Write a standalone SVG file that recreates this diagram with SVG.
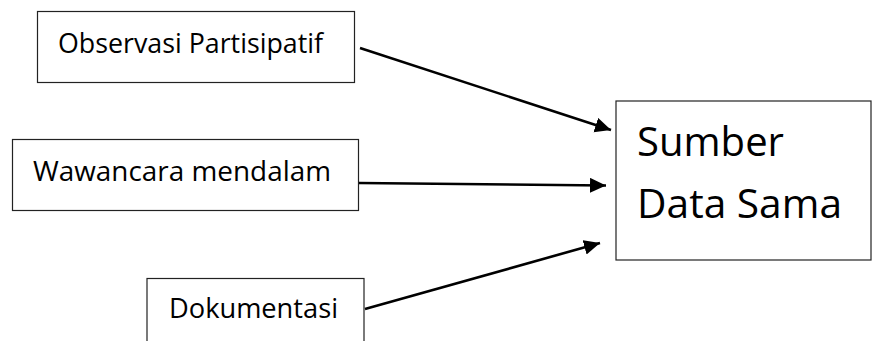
<svg xmlns="http://www.w3.org/2000/svg" width="872" height="341" viewBox="0 0 872 341">
<style>
.box{fill:#fff;stroke:#222;stroke-width:1.2}
.lbl{font-family:"Open Sans","Noto Sans",sans-serif;font-size:28px;fill:#000}
.big{font-family:"Open Sans","Noto Sans",sans-serif;font-size:41px;fill:#000}
.edge{stroke:#000;stroke-width:2.6;fill:none;marker-end:url(#ah)}
</style>
<defs>
<marker id="ah" markerUnits="userSpaceOnUse" markerWidth="18" markerHeight="16" refX="16" refY="7.5" orient="auto">
<path d="M0,0 L16,7.5 L0,15 z" fill="#000"/>
</marker>
</defs>
<rect width="872" height="341" fill="#fff"/>
<g id="n1">
<rect class="box" x="37.5" y="11.5" width="317" height="71"/>
<text class="lbl" x="58" y="53" textLength="265" lengthAdjust="spacingAndGlyphs">Observasi Partisipatif</text>
</g>
<g id="n2">
<rect class="box" x="12.5" y="139.5" width="346" height="71"/>
<text class="lbl" x="33" y="181" textLength="298" lengthAdjust="spacingAndGlyphs">Wawancara mendalam</text>
</g>
<g id="n3">
<rect class="box" x="147" y="278.5" width="217" height="80"/>
<text class="lbl" x="169" y="318" textLength="169" lengthAdjust="spacingAndGlyphs">Dokumentasi</text>
</g>
<g id="n4">
<rect class="box" x="616" y="101" width="255" height="159"/>
<text class="big" x="637" y="156" textLength="147" lengthAdjust="spacingAndGlyphs">Sumber</text>
<text class="big" x="637" y="218" textLength="205" lengthAdjust="spacingAndGlyphs">Data Sama</text>
</g>
<g id="connectors">
<line class="edge" x1="360" y1="48" x2="611" y2="130"/>
<line class="edge" x1="359" y1="183" x2="606" y2="185.5"/>
<line class="edge" x1="365" y1="309" x2="600" y2="243"/>
</g>
</svg>
